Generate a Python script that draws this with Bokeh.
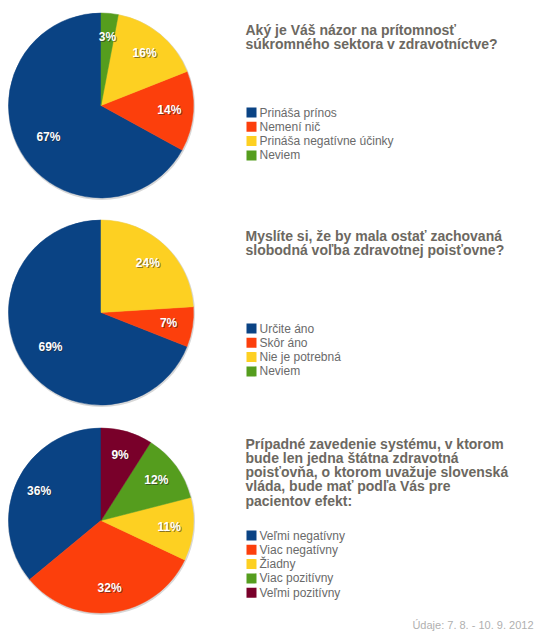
import math
from bokeh.plotting import figure
from bokeh.models import Range1d, ColumnDataSource
from bokeh.core.properties import value
from bokeh.embed import file_html
from bokeh.resources import INLINE

# ---- data ----
q1_title = ["Aký je Váš názor na prítomnosť", "súkromného sektora v zdravotníctve?"]
q1_labels = ["Prináša prínos", "Nemení nič", "Prináša negatívne účinky", "Neviem"]
q1_values = [67, 14, 16, 3]

q2_title = ["Myslíte si, že by mala ostať zachovaná", "slobodná voľba zdravotnej poisťovne?"]
q2_labels = ["Určite áno", "Skôr áno", "Nie je potrebná", "Neviem"]
q2_values = [69, 7, 24, 0]

q3_title = ["Prípadné zavedenie systému, v ktorom", "bude len jedna štátna zdravotná",
            "poisťovňa, o ktorom uvažuje slovenská", "vláda, bude mať podľa Vás pre",
            "pacientov efekt:"]
q3_labels = ["Veľmi negatívny", "Viac negatívny", "Žiadny", "Viac pozitívny", "Veľmi pozitívny"]
q3_values = [36, 32, 11, 12, 9]

footer = "Údaje: 7. 8. - 10. 9. 2012"

colors = ["#0a4384", "#fc3f0c", "#fdd022", "#559d1e", "#79002a"]

W, H = 551, 640
FONT = value("Liberation Sans")

p = figure(width=W, height=H, x_range=Range1d(0, W), y_range=Range1d(0, H),
           output_backend="svg", toolbar_location=None, min_border=0)
p.axis.visible = False
p.grid.visible = False
p.outline_line_color = None
p.background_fill_color = "white"


def Y(sy):
    return H - sy


blocks = [
    (q1_title, q1_labels, q1_values, 105, 29, 112),
    (q2_title, q2_labels, q2_values, 312, 235, 328),
    (q3_title, q3_labels, q3_values, 520, 443, 535),
]

R = 92.5
CX = 100.5
for title, labels, vals, cy, ty, ly in blocks:
    total = float(sum(vals))
    starts, ends, cols, lx, lyy, ltxt = [], [], [], [], [], []
    cum = 0.0
    for i, v in enumerate(vals):
        a0 = math.pi / 2 + 2 * math.pi * cum / total
        cum += v
        a1 = math.pi / 2 + 2 * math.pi * cum / total
        if v > 0:
            starts.append(a0)
            ends.append(a1)
            cols.append(colors[i])
            mid = (a0 + a1) / 2
            f = 0.66 if v > 50 else 0.74
            lx.append(CX + f * R * math.cos(mid))
            lyy.append(Y(cy) + f * R * math.sin(mid))
            ltxt.append(f"{v}%")
    # faint shadow ring
    p.circle(x=[CX + 0.5], y=[Y(cy) - 1], radius=R + 1, fill_color="#d8d8d8", line_color=None)
    src = ColumnDataSource(dict(start=starts, end=ends, color=cols))
    p.wedge(x=CX, y=Y(cy), radius=R, start_angle="start", end_angle="end",
            direction="anticlock", fill_color="color", line_color="color",
            line_width=0.5, source=src)
    # labels with shadow
    p.text(x=[x + 1 for x in lx], y=[y - 1 for y in lyy], text=ltxt, text_font=FONT,
           text_font_style="bold", text_font_size="12px", text_color="#222222",
           text_alpha=0.55, text_align="center", text_baseline="middle")
    p.text(x=lx, y=lyy, text=ltxt, text_font=FONT, text_font_style="bold",
           text_font_size="12px", text_color="white",
           text_align="center", text_baseline="middle")
    # title
    p.text(x=[245] * len(title), y=[Y(ty + 14.3 * k) for k in range(len(title))],
           text=title, text_font=FONT, text_font_style="bold", text_font_size="14px",
           text_color="#6c6861", text_align="left", text_baseline="middle")
    # legend
    n = len(labels)
    ys = [Y(ly + 14.3 * k) for k in range(n)]
    p.rect(x=[251] * n, y=ys, width=10, height=10, fill_color=colors[:n], line_color=None)
    p.text(x=[259] * n, y=ys, text=labels, text_font=FONT, text_font_size="12px",
           text_color="#6a6a6a", text_align="left", text_baseline="middle")

p.text(x=[533], y=[Y(624)], text=[footer], text_font=FONT, text_font_size="11px",
       text_color="#b0b0b0", text_align="right", text_baseline="middle")

open("out.html", "w").write(file_html(p, INLINE))
